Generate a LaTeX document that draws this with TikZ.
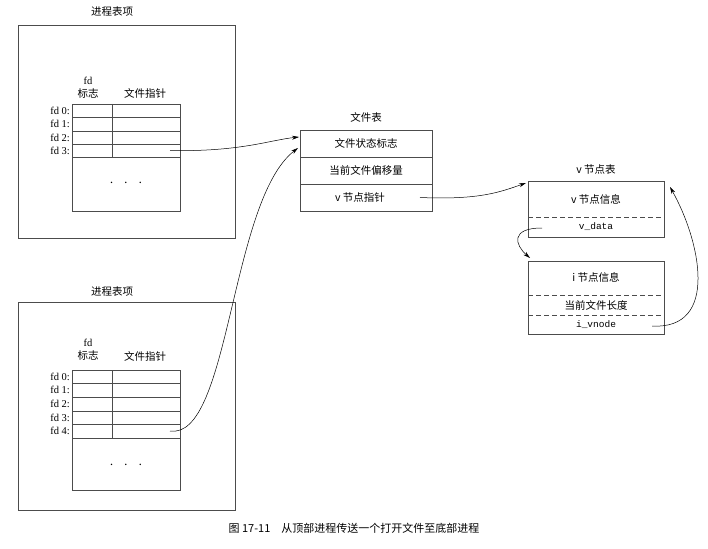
\documentclass[tikz,border=0pt]{standalone}
\usepackage{fontspec}
\setmainfont{Liberation Serif}
\newfontfamily\cjk{Noto Sans CJK SC}
\newfontfamily\mono{Liberation Mono}
\usetikzlibrary{positioning,arrows.meta}
\tikzset{
  box/.style={draw=black!70, line width=0.6pt},
  lbl/.style={font=\cjk\fontsize{10.5}{11}\selectfont, inner sep=1pt},
  fdl/.style={font=\fontsize{10.5}{10}\selectfont, inner sep=1pt, anchor=east},
  ptr/.style={-{Stealth[length=7pt,width=4pt]}, line width=0.5pt},
  dsh/.style={dashed, dash pattern=on 5pt off 3pt, draw=black!70}
}
\begin{document}
\begin{tikzpicture}[x=1pt,y=-1pt]
\useasboundingbox (0,0) rectangle (708,548);
% top process entry
\node[lbl] (t1) at (112,12) {进程表项};
\draw[box] (18,25) rectangle (235,238);
\node[font=\fontsize{10.5}{10}\selectfont, inner sep=0pt] (fdA) at (88,81) {fd};
\node[lbl] (flA) at (88,94) {标志};
\node[lbl] (fpA) at (145,93) {文件指针};
\draw[box] (72,104) rectangle (180,211);
\foreach \y in {117,131,144,157} \draw[box] (72,\y) -- (180,\y);
\draw[box] (112,104) -- (112,157);
\foreach \i/\y in {0/110.5,1/124,2/137.5,3/150.5}
  \node[fdl] (fa\i) at (71,\y) {fd \i:};
\node[font=\Large] (dotsA) at (126,183) {$\cdot\ \ \cdot\ \ \cdot$};
\coordinate (pa) at (170,150.5);
% bottom process entry
\node[lbl] (t2) at (112,292) {进程表项};
\draw[box] (18,302) rectangle (235,510);
\node[font=\fontsize{10.5}{10}\selectfont, inner sep=0pt] (fdB) at (88,343) {fd};
\node[lbl] (flB) at (88,356) {标志};
\node[lbl] (fpB) at (145,356) {文件指针};
\draw[box] (72,370) rectangle (180,490);
\foreach \y in {383,397,411,424,438} \draw[box] (72,\y) -- (180,\y);
\draw[box] (112,370) -- (112,438);
\foreach \i/\y in {0/376.5,1/390,2/404,3/417.5,4/431}
  \node[fdl] (fb\i) at (71,\y) {fd \i:};
\node[font=\Large] (dotsB) at (126,465) {$\cdot\ \ \cdot\ \ \cdot$};
\coordinate (pb) at (170,431);
% file table
\node[lbl] (ft) at (366,117) {文件表};
\draw[box] (300,130) rectangle (432,211);
\draw[box] (300,157) -- (432,157);
\draw[box] (300,184) -- (432,184);
\node[lbl] (f1) at (366,143.5) {文件状态标志};
\node[lbl] (f2) at (366,170.5) {当前文件偏移量};
\node[lbl] (f3) at (360,197.5) {v 节点指针};
\coordinate (fin) at (299,137);
\coordinate (fin2) at (298,148);
\coordinate (vp) at (420,197.5);
% v-node table
\node[lbl] (vt) at (596,170) {v 节点表};
\draw[box] (528,181) rectangle (664,237);
\draw[dsh] (528,217) -- (664,217);
\node[lbl] (v1) at (596,199) {v 节点信息};
\node[font=\mono\fontsize{9.5}{9}\selectfont] (vd) at (596,227) {v\_data};
\coordinate (vin) at (526,183);
\coordinate (vdp) at (542,228);
% i-node
\draw[box] (528,261) rectangle (664,334);
\draw[dsh] (528,295) -- (664,295);
\draw[dsh] (528,315) -- (664,315);
\node[lbl] (i1) at (596,277) {i 节点信息};
\node[lbl] (i2) at (596,305) {当前文件长度};
\node[font=\mono\fontsize{9.5}{9}\selectfont] (iv) at (596,325) {i\_vnode};
\coordinate (iin) at (530,258);
\coordinate (ivp) at (652,326);
\coordinate (vtop) at (670,187);
% pointers
\draw[ptr] (pa) .. controls (240,152) and (270,140) .. (fin);
\draw[ptr] (pb) .. controls (230,440) and (230,200) .. (fin2);
\draw[ptr] (vp) .. controls (480,200) and (500,192) .. (vin);
\draw[ptr] (vdp) .. controls (510,228) and (515,245) .. (iin);
\draw[ptr] (ivp) .. controls (720,330) and (700,240) .. (vtop);
% caption
\node[font=\cjk\fontsize{11}{11}\selectfont] (cap) at (354,528) {图 17-11\quad 从顶部进程传送一个打开文件至底部进程};
\end{tikzpicture}
\end{document}
